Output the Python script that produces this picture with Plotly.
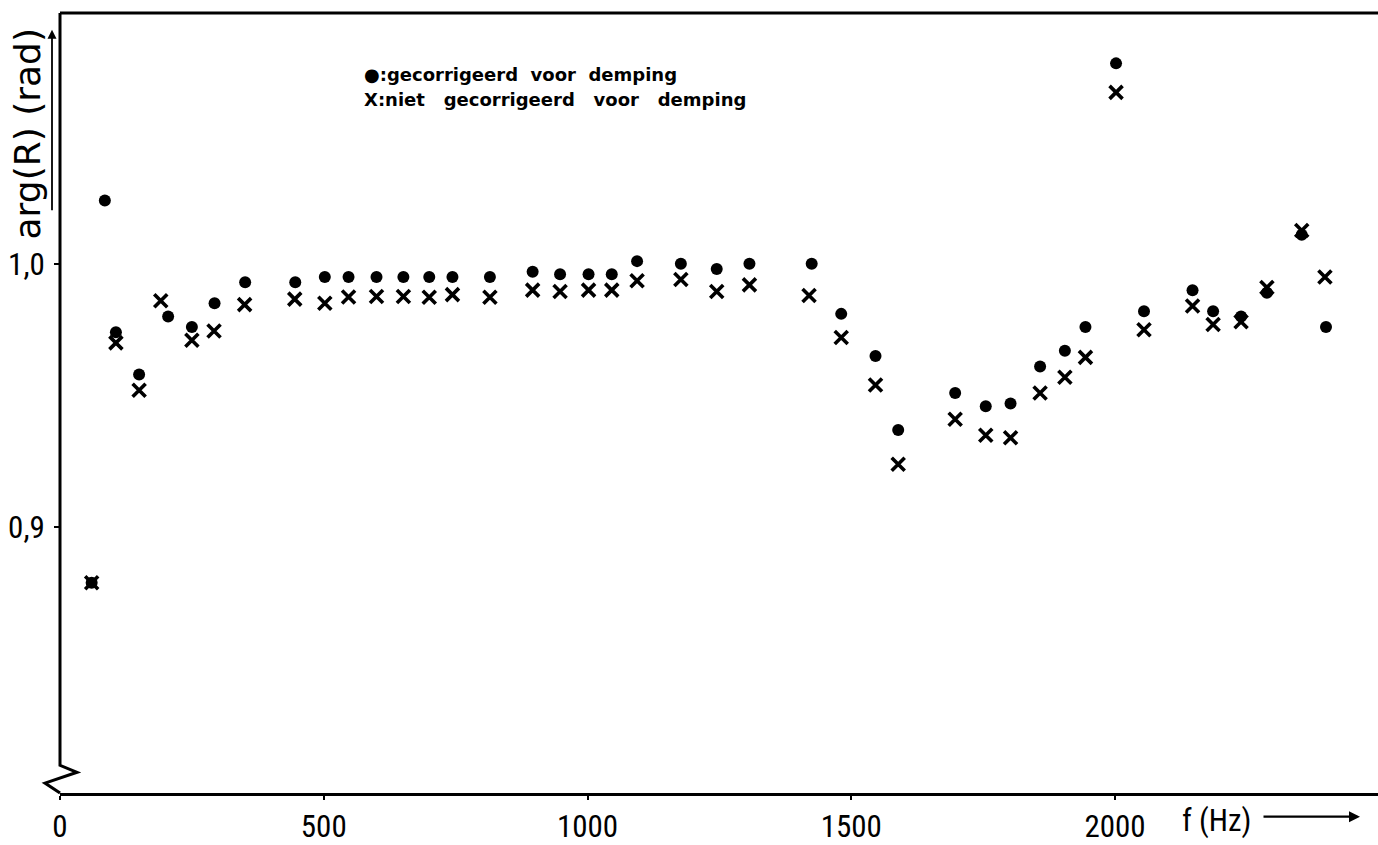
import plotly.graph_objects as go

# Phase of the reflection coefficient versus frequency
f_corr = [60, 85, 106, 150, 205, 250, 293, 351, 446, 502, 547, 600, 651, 700, 744,
          815, 896, 948, 1002, 1046, 1094, 1177, 1245, 1307, 1425, 1481, 1546, 1589,
          1697, 1755, 1802, 1858, 1905, 1944, 2002, 2055, 2147, 2186, 2239, 2288,
          2354, 2400]
arg_corr = [0.879, 1.024, 0.974, 0.958, 0.980, 0.976, 0.985, 0.993, 0.993, 0.995,
            0.995, 0.995, 0.995, 0.995, 0.995, 0.995, 0.997, 0.996, 0.996, 0.996,
            1.001, 1.000, 0.998, 1.000, 1.000, 0.981, 0.965, 0.937, 0.951, 0.946,
            0.947, 0.961, 0.967, 0.976, 1.076, 0.982, 0.990, 0.982, 0.980, 0.989,
            1.011, 0.976]

f_raw = [60, 106, 150, 191, 250, 292, 350, 445, 502, 547, 600, 651, 700, 744, 815,
         896, 948, 1002, 1046, 1094, 1177, 1245, 1307, 1420, 1481, 1546, 1589, 1697,
         1755, 1802, 1858, 1905, 1944, 2002, 2055, 2147, 2186, 2239, 2288, 2354, 2398]
arg_raw = [0.879, 0.970, 0.952, 0.986, 0.971, 0.9745, 0.9845, 0.9866, 0.985, 0.9874,
           0.9876, 0.9876, 0.9873, 0.9883, 0.9873, 0.990, 0.9895, 0.990, 0.990,
           0.9936, 0.994, 0.9895, 0.992, 0.988, 0.972, 0.954, 0.924, 0.941, 0.935,
           0.934, 0.951, 0.957, 0.9645, 1.065, 0.975, 0.984, 0.977, 0.978, 0.991,
           1.0126, 0.995]

x_ticks = [0, 500, 1000, 1500, 2000]
x_ticktext = ["0", "500", "1000", "1500", "2000"]
y_ticks = [0.9, 1.0]
y_ticktext = ["0,9", "1,0"]

NARROW = "Liberation Sans Narrow, Roboto Condensed, DejaVu Sans Condensed, Liberation Sans"

fig = go.Figure()
fig.add_trace(go.Scatter(
    x=f_corr, y=arg_corr, mode="markers", name="gecorrigeerd voor demping",
    marker=dict(symbol="circle", size=12, color="black"),
    cliponaxis=False,
))
fig.add_trace(go.Scatter(
    x=f_raw, y=arg_raw, mode="markers", name="niet gecorrigeerd voor demping",
    marker=dict(symbol="x-thin", size=13, line=dict(width=3.6, color="black"), color="black"),
    cliponaxis=False,
))

# left axis with a break (zigzag) near the bottom, and a top rule
W, H, L, T = 1318.0, 790.0, 60.0, 13.0


def px2paper(px, py):
    return (px - L) / W, (T + H - py) / H


pts = [px2paper(*p) for p in [(60, 13), (60, 775), (77, 782), (45, 793), (60, 803)]]
path = "M " + " L ".join(f"{x:.5f},{y:.5f}" for x, y in pts)

shapes = [
    dict(type="path", path=path, xref="paper", yref="paper",
         line=dict(color="black", width=3)),
    dict(type="line", xref="paper", yref="paper", x0=0, x1=1, y0=1, y1=1,
         line=dict(color="black", width=3)),
]

annotations = []
# legend text
lx, ly1 = px2paper(362, 75)
_, ly2 = px2paper(362, 101)
annotations.append(dict(
    text="<b>●:gecorrigeerd  voor  demping</b>", xref="paper", yref="paper",
    x=lx, y=ly1, xanchor="left", yanchor="middle", showarrow=False,
    font=dict(family="DejaVu Sans", size=18, color="black")))
annotations.append(dict(
    text="<b>X:niet   gecorrigeerd   voor   demping</b>", xref="paper", yref="paper",
    x=lx, y=ly2, xanchor="left", yanchor="middle", showarrow=False,
    font=dict(family="DejaVu Sans", size=18, color="black")))

# y-axis title with upward arrow
yx, yy = px2paper(27, 136)
annotations.append(dict(
    text="arg(R) (rad)", textangle=-90, xref="paper", yref="paper",
    x=yx, y=yy, xanchor="center", yanchor="middle", showarrow=False,
    font=dict(family="DejaVu Sans", size=36, color="black")))
ax_, ay_ = px2paper(52, 30)
annotations.append(dict(
    text="", xref="paper", yref="paper", x=ax_, y=ay_, showarrow=True,
    ax=0, ay=182, arrowhead=2, arrowsize=1, arrowwidth=1.8, arrowcolor="black"))

# x-axis title with rightward arrow
fx, fy = px2paper(1180, 831)
annotations.append(dict(
    text="f (Hz)", xref="paper", yref="paper", x=fx, y=fy,
    xanchor="left", yanchor="middle", showarrow=False,
    font=dict(family=NARROW, size=31, color="black")))
hx, hy = px2paper(1360, 827)
annotations.append(dict(
    text="", xref="paper", yref="paper", x=hx, y=hy, showarrow=True,
    ax=-98, ay=0, arrowhead=2, arrowsize=1, arrowwidth=2.2, arrowcolor="black"))

fig.update_layout(
    width=1378, height=845, autosize=False,
    margin=dict(l=60, r=0, t=13, b=42),
    paper_bgcolor="white", plot_bgcolor="white",
    showlegend=False,
    shapes=shapes, annotations=annotations,
    xaxis=dict(
        range=[0, 2498.6], tickvals=x_ticks, ticktext=x_ticktext,
        ticks="outside", ticklen=4, tickwidth=2, tickcolor="black",
        showline=True, linewidth=3, linecolor="black",
        showgrid=False, zeroline=False,
        tickfont=dict(family=NARROW, size=31, color="black"),
    ),
    yaxis=dict(
        range=[0.7993, 1.0951], tickvals=y_ticks, ticktext=y_ticktext,
        ticks="outside", ticklen=5, tickwidth=2, tickcolor="black",
        showline=False, showgrid=False, zeroline=False,
        ticklabelstandoff=3,
        tickfont=dict(family=NARROW, size=31, color="black"),
    ),
)

fig.write_html("out.html")
